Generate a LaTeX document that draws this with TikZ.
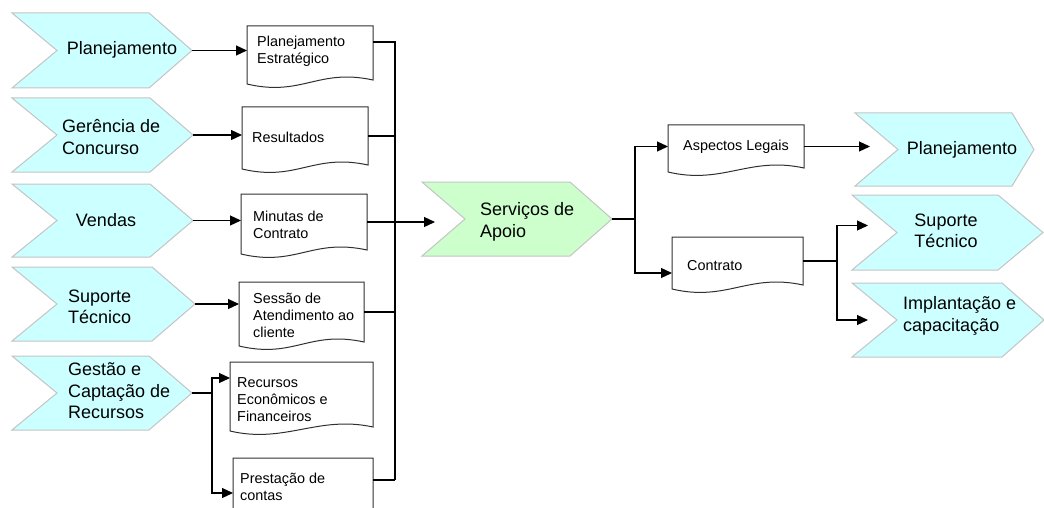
\documentclass[tikz,border=0pt]{standalone}
\usepackage{fontspec}
\setmainfont{Liberation Sans}
\usetikzlibrary{arrows.meta,fit,backgrounds}
\definecolor{chevcyan}{HTML}{CCFFFF}
\definecolor{chevgreen}{HTML}{CCFFCC}
\definecolor{chevedge}{HTML}{C4C4C4}
\definecolor{docedge}{HTML}{303030}
\tikzset{
  box/.style={inner sep=0pt, outer sep=0pt},
  chevshape/.style={fill=#1, draw=chevedge, line width=1pt, line join=miter},
  docshape/.style={fill=white, draw=docedge, line width=1pt},
  bigtxt/.style={font=\fontsize{18}{21.5}\selectfont, align=left, inner sep=0pt},
  smalltxt/.style={font=\fontsize{14.4}{17}\selectfont, align=left, inner sep=0pt, anchor=west},
  conn/.style={line width=1.2pt, black},
  arr/.style={conn, -{Triangle[length=11pt,width=10pt]}},
}
\newcommand{\chevout}[4]{%
  \begin{pgfonlayer}{background}
  \draw[chevshape=#4] ([xshift=-#2pt]#1.north west) -- ([xshift=-#3pt]#1.north east) -- (#1.east)
     -- ([xshift=-#3pt]#1.south east) -- ([xshift=-#2pt]#1.south west) -- (#1.west) -- cycle;
  \end{pgfonlayer}}
\newcommand{\docout}[1]{%
  \begin{pgfonlayer}{background}
  \draw[docshape] ([yshift=-4pt]#1.south west) -- (#1.north west) -- (#1.north east) -- (#1.south east)
     .. controls +(-55,-12) and +(55,13) .. ([yshift=-4pt]#1.south west) -- cycle;
  \end{pgfonlayer}}
\begin{document}
\begin{tikzpicture}[x=1pt,y=-1pt]
\useasboundingbox (0,0) rectangle (1044,508);
% ---------- left chevrons
\node[box, fit={(57,13) (192,88)}] (c1) {};   \chevout{c1}{45}{43}{chevcyan}
\node[box, fit={(57,98) (193,172)}] (c2) {};  \chevout{c2}{45}{43}{chevcyan}
\node[box, fit={(57,184) (193,257)}] (c3) {}; \chevout{c3}{45}{43}{chevcyan}
\node[box, fit={(57,267) (195,341)}] (c4) {}; \chevout{c4}{45}{43}{chevcyan}
\node[box, fit={(57,356) (192,430)}] (c5) {}; \chevout{c5}{45}{43}{chevcyan}
\node[bigtxt] (c1t) at (122,50) {Planejamento};
\node[bigtxt, anchor=west] (c2t) at (62,137) {Gerência de\\Concurso};
\node[bigtxt] (c3t) at (106,220) {Vendas};
\node[bigtxt, anchor=west] (c4t) at (68,307) {Suporte\\Técnico};
\node[bigtxt, anchor=west] (c5t) at (68,391) {Gestão e\\Captação de\\Recursos};
% ---------- documents, left
\node[box, fit={(247,26) (373,80)}] (d1) {};   \docout{d1}
\node[box, fit={(242,107) (368,165)}] (d2) {}; \docout{d2}
\node[box, fit={(241,194) (367,250)}] (d3) {}; \docout{d3}
\node[box, fit={(239,282) (364,342)}] (d4) {}; \docout{d4}
\node[box, fit={(230,362) (373,427)}] (d5) {}; \docout{d5}
\node[box, fit={(233,458) (373,522)}] (d6) {}; \docout{d6}
\node[smalltxt] (d1t) at (257,51.5) {Planejamento\\Estratégico};
\node[smalltxt] (d2t) at (252,137) {Resultados};
\node[smalltxt] (d3t) at (253,224.5) {Minutas de\\Contrato};
\node[smalltxt] (d4t) at (253,315) {Sessão de\\Atendimento ao\\cliente};
\node[smalltxt] (d5t) at (237,400) {Recursos\\Econômicos e\\Financeiros};
\node[smalltxt] (d6t) at (240,487) {Prestação de\\contas};
% ---------- centre chevron
\node[box, fit={(465,182) (612,256)}] (s) {}; \chevout{s}{43}{42}{chevgreen}
\node[bigtxt, anchor=west] (st) at (480,222) {Serviços de\\Apoio};
% ---------- documents, right
\node[box, fit={(668,125) (804,168)}] (d7) {}; \docout{d7}
\node[box, fit={(672,237) (803,285)}] (d8) {}; \docout{d8}
\node[smalltxt] (d7t) at (683,147) {Aspectos Legais};
\node[smalltxt] (d8t) at (687,266) {Contrato};
% ---------- right chevrons
\node[box, fit={(898,113) (1034,186)}] (r1) {}; \chevout{r1}{43}{22}{chevcyan}
\node[box, fit={(897,195) (1043,270)}] (r2) {}; \chevout{r2}{45}{45}{chevcyan}
\node[box, fit={(897,283) (1044,357)}] (r3) {}; \chevout{r3}{45}{42}{chevcyan}
\node[bigtxt] (r1t) at (962,150) {Planejamento};
\node[bigtxt, align=center] (r2t) at (946,231) {Suporte\\Técnico};
\node[bigtxt, anchor=west] (r3t) at (903,316) {Implantação e\\capacitação};
% ---------- connectors, left
\draw[arr] (c1.east) -- (c1.east -| d1.west);
\draw[arr] (c2.east) -- (c2.east -| d2.west);
\draw[arr] (c3.east) -- (c3.east -| d3.west);
\draw[arr] (c4.east) -- (c4.east -| d4.west);
\coordinate (g5) at (212,393);
\draw[conn] (c5.east) -- (g5);
\draw[arr] (g5) |- ([yshift=-16pt]d5.north west);
\draw[arr] (g5) |- ([yshift=-35pt]d6.north west);
% bus
\coordinate (btop) at (395,42);
\coordinate (bbot) at (395,480);
\draw[conn] ([yshift=-16pt]d1.north east) -- (btop) -- (bbot);
\draw[conn] (d2.east) -- (d2.east -| btop);
\draw[conn] (d4.east) -- (d4.east -| btop);
\draw[conn] (d6.east |- bbot) -- (bbot);
\draw[arr] (d3.east) -- ([xshift=-30pt]s.west |- d3.east);
% ---------- connectors, right
\coordinate (sj) at (635,219);
\draw[conn] (s.east) -- (sj);
\draw[arr] (sj) |- (d7.west);
\draw[arr] (sj) |- ([yshift=-12pt]d8.west);
\draw[arr] (d7.east) -- ([xshift=-28pt]r1.west |- d7.east);
\coordinate (cj) at (837,261);
\draw[conn] (d8.east) -- (cj);
\draw[arr] (cj) |- ([xshift=-29pt,yshift=7pt]r2.west);
\draw[arr] (cj) |- ([xshift=-29pt]r3.west);
\end{tikzpicture}
\end{document}
